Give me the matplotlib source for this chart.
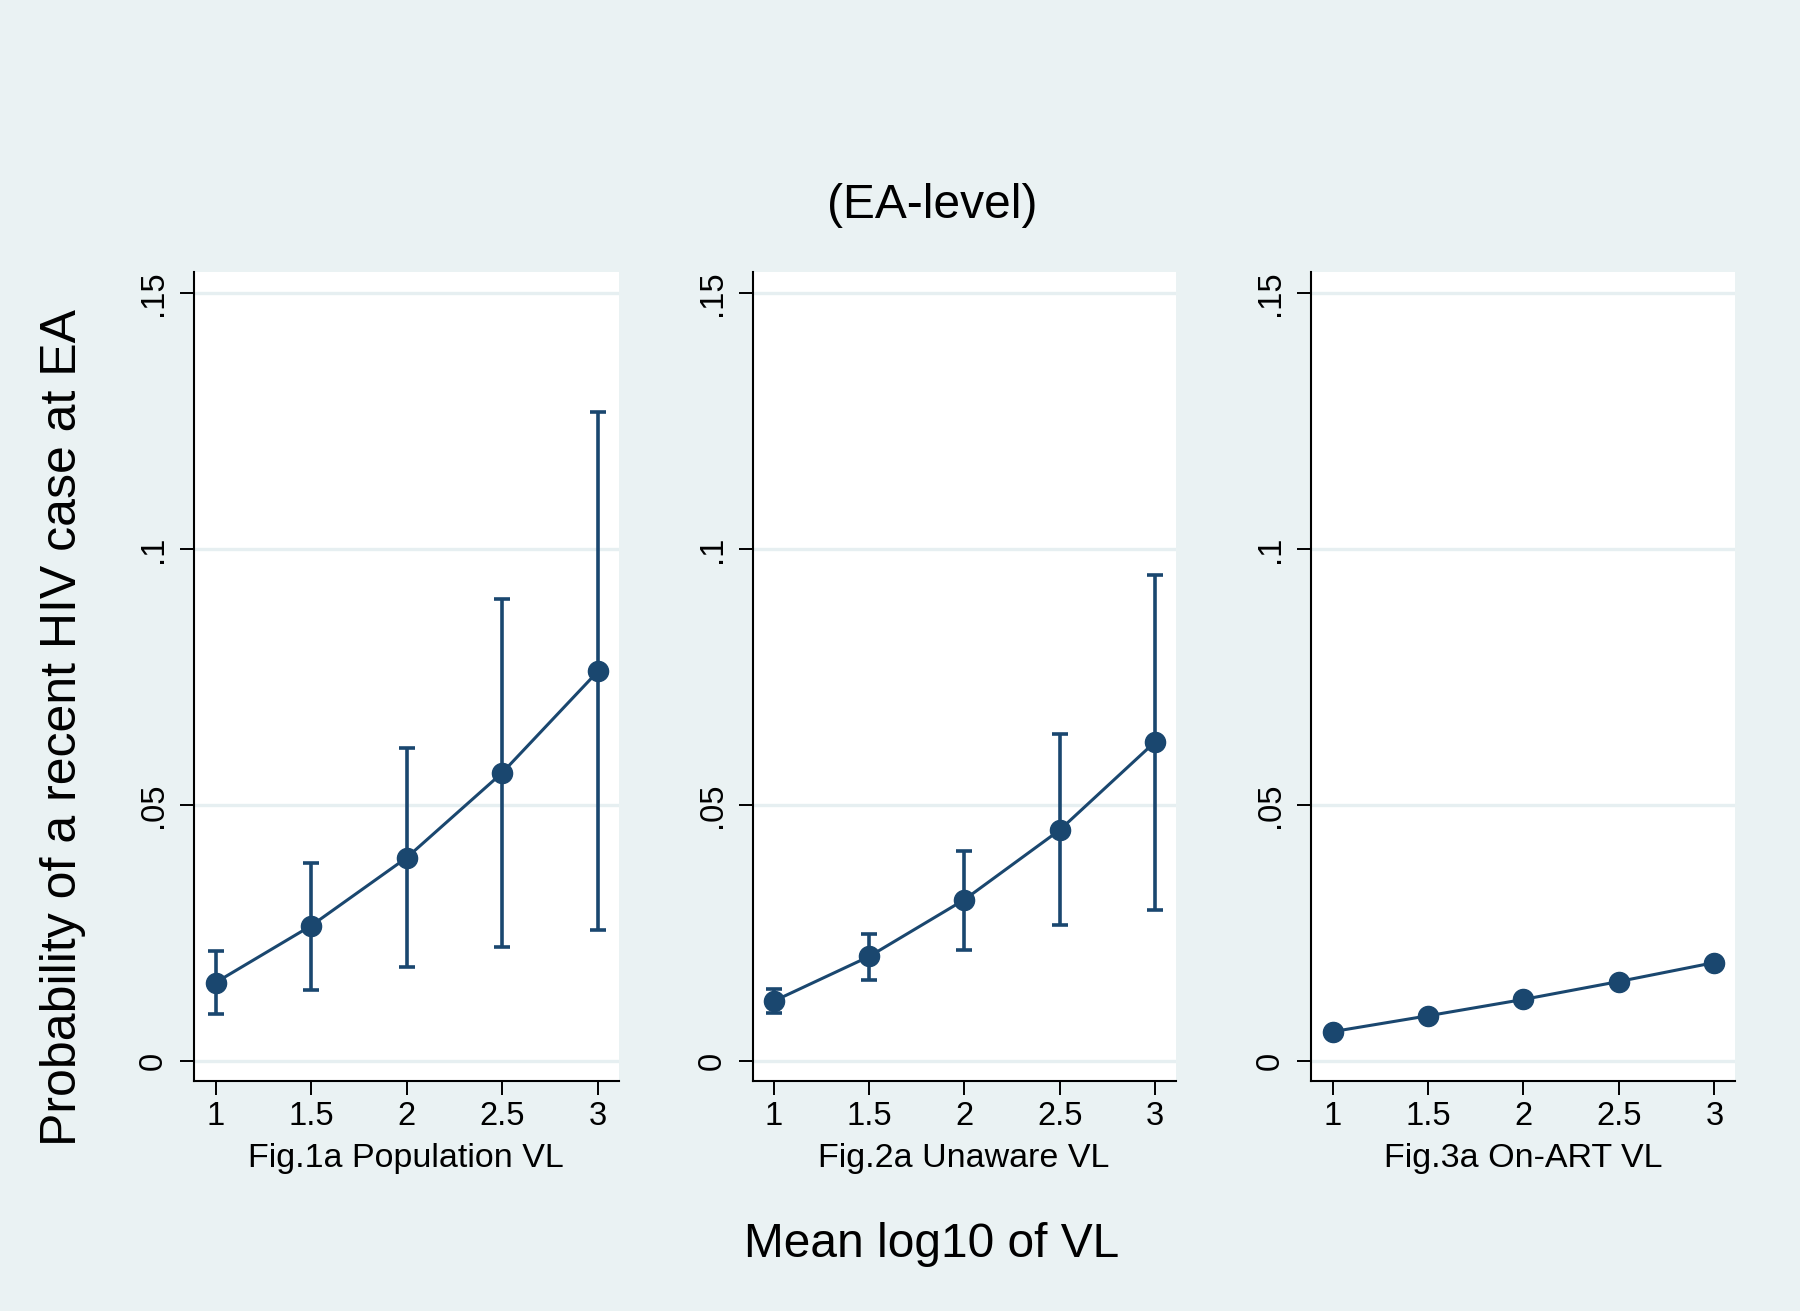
import matplotlib
matplotlib.use("Agg")
import matplotlib.pyplot as plt
import numpy as np

plt.rcParams['font.family'] = ['Liberation Sans', 'DejaVu Sans']

# Data
x_vl = [1, 1.5, 2, 2.5, 3]
pop_est = [0.0153, 0.0264, 0.0397, 0.0563, 0.0761]
pop_lo = [0.0092, 0.0139, 0.0183, 0.0222, 0.0256]
pop_hi = [0.0215, 0.0386, 0.0611, 0.0903, 0.1267]

unaware_est = [0.0117, 0.0204, 0.0315, 0.0451, 0.0623]
unaware_lo = [0.0093, 0.0158, 0.0217, 0.0265, 0.0295]
unaware_hi = [0.0141, 0.0248, 0.0410, 0.0638, 0.0949]

onart_est = [0.0057, 0.0088, 0.0120, 0.0155, 0.0192]

panel_labels = ["Fig.1a Population VL", "Fig.2a Unaware VL", "Fig.3a On-ART VL"]
x_ticks = [1, 1.5, 2, 2.5, 3]
x_tick_labels = ["1", "1.5", "2", "2.5", "3"]
y_ticks = [0, 0.05, 0.1, 0.15]
y_tick_labels = ["0", ".05", ".1", ".15"]

title = "(EA-level)"
ylabel = "Probability of a recent HIV case at EA"
xlabel = "Mean log10 of VL"

BG = "#EAF2F3"
NAVY = "#1A476F"
GRID = "#E6EFF1"

W, H = 1800, 1311
fig = plt.figure(figsize=(W / 100, H / 100), dpi=100, facecolor=BG)

lefts = [194, 752.5, 1311]
rights = [618.5, 1175.5, 1735]
top_px, bot_px = 272.2, 1081.3

series = [
    (pop_est, pop_lo, pop_hi),
    (unaware_est, unaware_lo, unaware_hi),
    (onart_est, None, None),
]

for i in range(3):
    l, r = lefts[i], rights[i]
    ax = fig.add_axes([l / W, 1 - bot_px / H, (r - l) / W, (bot_px - top_px) / H])
    ax.set_facecolor("white")
    est, lo, hi = series[i]
    if lo is not None:
        yerr = [np.array(est) - np.array(lo), np.array(hi) - np.array(est)]
        ax.errorbar(x_vl, est, yerr=yerr, fmt='none', ecolor=NAVY,
                    elinewidth=2.6, capsize=6, capthick=2.6, zorder=3)
    ax.plot(x_vl, est, color=NAVY, lw=2.2, marker='o', markersize=14.5,
            markerfacecolor=NAVY, markeredgecolor=NAVY, zorder=4)
    ax.set_xlim(0.887, 3.108)
    ax.set_ylim(-0.0040, 0.1541)
    ax.set_xticks(x_ticks)
    ax.set_xticklabels(x_tick_labels)
    ax.set_yticks(y_ticks)
    ax.set_yticklabels(y_tick_labels, rotation=90, va='center')
    ax.yaxis.grid(True, color=GRID, lw=2.4)
    ax.set_axisbelow(True)
    for s in ['top', 'right']:
        ax.spines[s].set_visible(False)
    for s in ['left', 'bottom']:
        ax.spines[s].set_color('black')
        ax.spines[s].set_linewidth(1.5)
    ax.tick_params(axis='both', length=10, width=1.4, color='black',
                   labelsize=23.5, labelcolor='black')
    ax.tick_params(axis='x', pad=4.5)
    ax.tick_params(axis='y', pad=8)
    ax.set_xlabel(panel_labels[i], fontsize=24.5, va='baseline')
    ax.xaxis.set_label_coords(0.5, (bot_px - 1167) / (bot_px - top_px))

fig.text(932 / W, 1 - 218 / H, title, fontsize=34.5, ha='center', va='baseline')
fig.text(932 / W, 1 - 1257 / H, xlabel, fontsize=34.5, ha='center', va='baseline')
fig.text(76 / W, 1 - 727 / H, ylabel, fontsize=36, ha='center', va='baseline',
         rotation=90, rotation_mode='anchor')

fig.savefig("out.png", dpi=100, facecolor=BG)
